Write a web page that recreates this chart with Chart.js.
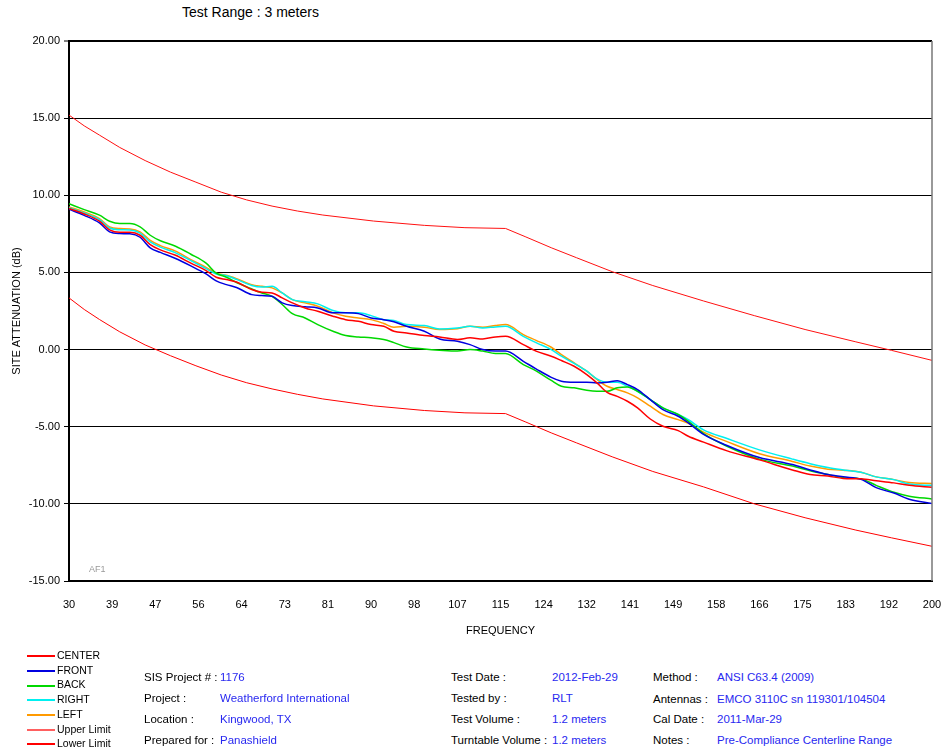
<!DOCTYPE html>
<html>
<head>
<meta charset="utf-8">
<script src="https://cdn.jsdelivr.net/npm/chart.js@4.4.0/dist/chart.umd.min.js"></script>
<style>
    body { margin: 0; background: #fff; font-family: Arial, "Liberation Sans", sans-serif; }
    #page { position: relative; width: 941px; height: 750px; }
    #chartBox { position: absolute; left: 0; top: 0; width: 941px; height: 650px; }
    .t { position: absolute; font-size: 11.5px; color: #000; white-space: nowrap; line-height: 14px; }
    .v { color: #2828f0; }
    #title { position: absolute; left: 182px; top: 4px; font-size: 14px; }
    .lg { position: absolute; left: 27px; font-size: 10.5px; line-height: 12px; white-space: nowrap; }
    .lg span { display: inline-block; width: 28px; height: 2px; vertical-align: middle; margin-right: 2px; }
</style>
</head>
<body>
<div id="page">
    <div id="title">Test Range : 3 meters</div>
    <div id="chartBox"><canvas id="SiteAttenuation"></canvas></div>
    <div id="legend"></div>
    <div id="info"></div>
</div>
<script>
// Frequency axis labels (MHz)
const xTickLabels = ['30', '39', '47', '56', '64', '73', '81', '90', '98', '107', '115',
    '124', '132', '141', '149', '158', '166', '175', '183', '192', '200'];

// Measured site attenuation (dB)
const freqs = [30, 33, 36, 38, 40, 42, 44, 46, 48, 51, 54, 57, 59, 61, 63, 66, 68, 70, 72, 74,
    76.5, 79, 82, 84.5, 87, 89.5, 92, 94, 96.5, 100, 103, 106.5, 109, 111.5, 114, 116,
    119.5, 122, 125, 127, 129.5, 132, 134, 136, 138, 140, 142, 144.5, 147, 150, 152, 155,
    159.5, 166, 172.5, 176, 179.5, 182.5, 186, 189, 192.5, 195.5, 200];

const center = [9.15, 8.79, 8.32, 7.76, 7.6, 7.6, 7.41, 6.8, 6.46, 6.11, 5.6, 5.12, 4.69, 4.54,
    4.38, 3.89, 3.71, 3.67, 3.35, 3.03, 2.7, 2.48, 2.16, 1.94, 1.83, 1.62, 1.51, 1.19, 1.08,
    0.91, 0.82, 0.65, 0.76, 0.69, 0.82, 0.86, 0.32, -0.1, -0.43, -0.71, -1.08, -1.62, -2.16,
    -2.78, -3.03, -3.35, -3.78, -4.5, -4.97, -5.25, -5.62, -6.0, -6.55, -7.15, -7.8, -8.1,
    -8.2, -8.35, -8.38, -8.5, -8.64, -8.8, -8.93];

const front = [9.1, 8.7, 8.21, 7.63, 7.52, 7.5, 7.28, 6.59, 6.3, 5.9, 5.42, 4.9, 4.45, 4.21,
    4.02, 3.56, 3.5, 3.45, 3.03, 2.85, 2.77, 2.7, 2.38, 2.38, 2.33, 2.05, 1.94, 1.8, 1.51,
    1.19, 0.69, 0.54, 0.32, 0.0, -0.1, -0.1, -0.76, -1.25, -1.8, -2.05, -2.12, -2.12, -2.16,
    -2.12, -2.02, -2.27, -2.59, -3.24, -3.89, -4.32, -4.75, -5.5, -6.2, -7.0, -7.45, -7.8,
    -8.1, -8.25, -8.4, -8.95, -9.3, -9.7, -9.98];

const back = [9.45, 9.07, 8.71, 8.32, 8.17, 8.17, 7.95, 7.41, 7.05, 6.7, 6.18, 5.6, 4.95, 4.69,
    4.35, 3.93, 3.67, 3.45, 2.92, 2.33, 2.05, 1.62, 1.19, 0.91, 0.82, 0.76, 0.65, 0.45, 0.17,
    0.04, -0.04, -0.1, 0.0, -0.1, -0.25, -0.26, -0.97, -1.38, -2.0, -2.38, -2.48, -2.64, -2.7,
    -2.7, -2.48, -2.42, -2.7, -3.24, -3.78, -4.21, -4.65, -5.45, -6.25, -7.1, -7.55, -7.85,
    -8.1, -8.3, -8.38, -8.8, -9.25, -9.5, -9.68];

const right = [9.2, 8.85, 8.42, 7.88, 7.77, 7.75, 7.55, 6.98, 6.64, 6.27, 5.77, 5.25, 4.9, 4.78,
    4.55, 4.15, 4.05, 4.1, 3.67, 3.24, 3.1, 2.96, 2.53, 2.38, 2.38, 2.2, 1.94, 1.88, 1.62,
    1.56, 1.34, 1.4, 1.51, 1.4, 1.47, 1.51, 0.86, 0.45, 0.0, -0.43, -0.9, -1.4, -1.9, -2.12,
    -2.12, -2.38, -2.7, -3.24, -3.78, -4.21, -4.55, -5.2, -5.75, -6.5, -7.1, -7.4, -7.65,
    -7.8, -7.95, -8.25, -8.43, -8.72, -8.8];

const left = [9.25, 8.92, 8.49, 7.95, 7.84, 7.82, 7.63, 7.08, 6.74, 6.38, 5.83, 5.33, 4.95, 4.82,
    4.6, 4.21, 4.1, 4.0, 3.67, 3.24, 3.03, 2.81, 2.38, 2.16, 2.05, 1.94, 1.69, 1.45, 1.51,
    1.45, 1.3, 1.35, 1.51, 1.45, 1.56, 1.62, 0.97, 0.6, 0.15, -0.32, -0.86, -1.4, -1.94,
    -2.38, -2.59, -2.81, -3.13, -3.67, -4.21, -4.54, -4.78, -5.35, -5.95, -6.75, -7.25,
    -7.55, -7.75, -7.82, -7.95, -8.25, -8.43, -8.62, -8.68];

// Limits (dB)
const limitFreqs = [30, 33, 36, 40, 45, 50, 55, 60, 65, 70, 75, 80, 90, 100, 108, 116,
    120, 125, 130, 137, 145, 155, 165, 175, 185, 192, 200];
const upperLimit = [15.2, 14.5, 13.9, 13.1, 12.25, 11.5, 10.85, 10.2, 9.7, 9.3, 8.98, 8.72,
    8.33, 8.05, 7.9, 7.85, 7.3, 6.6, 5.95, 5.05, 4.15, 3.15, 2.2, 1.3, 0.5, -0.05, -0.7];
const lowerLimit = [3.35, 2.6, 1.95, 1.15, 0.3, -0.4, -1.05, -1.65, -2.15, -2.55, -2.9, -3.2,
    -3.65, -3.95, -4.1, -4.15, -4.7, -5.4, -6.05, -6.95, -7.9, -8.9, -10.0, -10.9, -11.7,
    -12.2, -12.75];

const info = [
    ['SIS Project # :', '1176', 144, 220, 670],
    ['Project :', 'Weatherford International', 144, 220, 691],
    ['Location :', 'Kingwood, TX', 144, 220, 712],
    ['Prepared for :', 'Panashield', 144, 220, 733],
    ['Test Date :', '2012-Feb-29', 451, 552, 670],
    ['Tested by :', 'RLT', 451, 552, 691],
    ['Test Volume :', '1.2 meters', 451, 552, 712],
    ['Turntable Volume :', '1.2 meters', 451, 552, 733],
    ['Method :', 'ANSI C63.4 (2009)', 653, 717, 670],
    ['Antennas :', 'EMCO 3110C sn 119301/104504', 653, 717, 692],
    ['Cal Date :', '2011-Mar-29', 653, 717, 712],
    ['Notes :', 'Pre-Compliance Centerline Range', 653, 717, 733]
];

const fontFamily = 'Arial, "Liberation Sans", sans-serif';

function pts(xs, ys) {
    return xs.map((x, i) => ({ x: x, y: ys[i] }));
}

function series(label, xs, ys, color, width, smooth) {
    return {
        label: label,
        data: pts(xs, ys),
        borderColor: color,
        backgroundColor: color,
        borderWidth: width,
        pointRadius: 0,
        fill: false,
        tension: 0,
        cubicInterpolationMode: smooth ? 'monotone' : 'default'
    };
}

const datasets = [
    series('CENTER', freqs, center, '#ff0000', 1.5, true),
    series('FRONT', freqs, front, '#0000e0', 1.5, true),
    series('BACK', freqs, back, '#00d800', 1.5, true),
    series('RIGHT', freqs, right, '#00f0f0', 1.5, true),
    series('LEFT', freqs, left, '#ff9a00', 1.5, true),
    series('Upper Limit', limitFreqs, upperLimit, '#ff1010', 1, false),
    series('Lower Limit', limitFreqs, lowerLimit, '#ff0000', 1, false)
];

// extras drawn on the canvas: right border and the AF1 tag
const framePlugin = {
    id: 'frame',
    afterDraw(chart) {
        const a = chart.chartArea;
        const c = chart.ctx;
        c.save();
        c.strokeStyle = '#777';
        c.lineWidth = 1.5;
        c.beginPath();
        c.moveTo(a.right, a.top);
        c.lineTo(a.right, a.bottom);
        c.stroke();
        c.fillStyle = '#999';
        c.font = '9px ' + fontFamily;
        c.fillText('AF1', a.left + 20, a.bottom - 9);
        c.restore();
    }
};

const config = {
    type: 'line',
    data: { datasets: datasets },
    options: {
        responsive: true,
        maintainAspectRatio: false,
        animation: false,
        layout: { padding: { top: 41, right: 9, left: 0, bottom: 0 } },
        plugins: {
            legend: { display: false },
            tooltip: { enabled: false },
            title: { display: false }
        },
        scales: {
            x: {
                type: 'linear',
                min: 30,
                max: 200,
                afterBuildTicks: (scale) => {
                    scale.ticks = xTickLabels.map((l, i) => ({ value: 30 + i * 170 / (xTickLabels.length - 1) }));
                },
                afterFit: (scale) => {
                    scale.height = 69;
                    scale.paddingRight = 0;
                    scale.paddingLeft = 0;
                },
                grid: { display: false },
                border: { display: true, color: '#000', width: 2 },
                ticks: {
                    autoSkip: false,
                    maxRotation: 0,
                    padding: 9,
                    color: '#000',
                    font: { family: fontFamily, size: 11 },
                    callback: (v, i) => xTickLabels[i]
                },
                title: {
                    display: true,
                    text: 'FREQUENCY',
                    color: '#000',
                    font: { family: fontFamily, size: 11 },
                    padding: { top: 0, bottom: 12 }
                }
            },
            y: {
                min: -15,
                max: 20,
                afterFit: (scale) => {
                    scale.width = 69;
                    scale.paddingTop = 0;
                    scale.paddingBottom = 0;
                },
                ticks: {
                    stepSize: 5,
                    padding: 4,
                    color: '#000',
                    font: { family: fontFamily, size: 11 },
                    callback: (v) => v.toFixed(2)
                },
                grid: {
                    color: '#000',
                    lineWidth: (ctx) => (ctx.tick && ctx.tick.value === 20 ? 2 : 1),
                    drawTicks: true,
                    tickLength: 5,
                    tickColor: '#000',
                    tickWidth: 1
                },
                border: { display: true, color: '#000', width: 2 },
                title: {
                    display: true,
                    text: 'SITE ATTENUATION (dB)',
                    color: '#000',
                    font: { family: fontFamily, size: 11 },
                    padding: { top: 10, bottom: 0 }
                }
            }
        }
    },
    plugins: [framePlugin]
};

const chart = new Chart(document.getElementById('SiteAttenuation'), config);

// Legend built from the chart's datasets
const legendColors = { 'Upper Limit': '#ff6060' };
const legendBox = document.getElementById('legend');
chart.data.datasets.forEach((ds, i) => {
    const row = document.createElement('div');
    row.className = 'lg';
    row.style.top = (649 + i * 14.7) + 'px';
    row.innerHTML = '<span style="background:' + (legendColors[ds.label] || ds.borderColor) + '"></span>' + ds.label;
    legendBox.appendChild(row);
});

// Test information block
const infoBox = document.getElementById('info');
info.forEach(([label, value, lx, vx, y]) => {
    const a = document.createElement('div');
    a.className = 't';
    a.style.left = lx + 'px';
    a.style.top = y + 'px';
    a.textContent = label;
    infoBox.appendChild(a);
    const b = document.createElement('div');
    b.className = 't v';
    b.style.left = vx + 'px';
    b.style.top = y + 'px';
    b.textContent = value;
    infoBox.appendChild(b);
});
</script>
</body>
</html>
